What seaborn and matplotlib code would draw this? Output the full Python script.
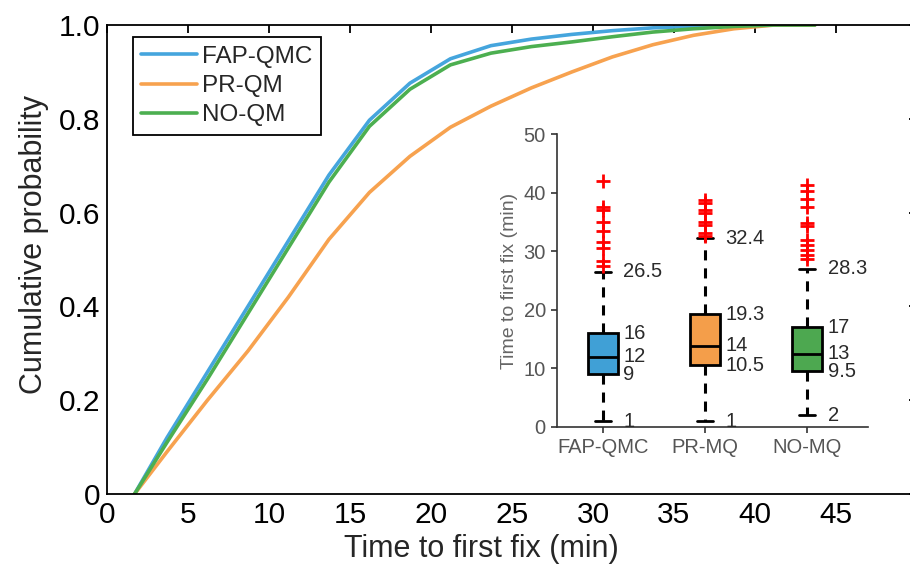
import numpy as np
import pandas as pd
import seaborn as sns
import matplotlib
matplotlib.use('Agg')
import matplotlib.pyplot as plt

sns.set_theme(style='white')
plt.rcParams['font.family'] = ['Liberation Sans', 'DejaVu Sans']

# CDF of time to first fix
t_min = [1.7, 3.7, 6.2, 8.7, 11.2, 13.7, 16.2, 18.7, 21.2, 23.7, 26.2, 28.7,
         31.2, 33.7, 36.2, 38.7, 41.2, 43.7]
cdf_fap = [0, 0.12, 0.26, 0.40, 0.54, 0.68, 0.797, 0.876, 0.928, 0.956, 0.970, 0.980,
           0.988, 0.994, 0.997, 0.999, 1.0, 1.0]
cdf_pr = [0, 0.09, 0.20, 0.305, 0.42, 0.543, 0.643, 0.72, 0.782, 0.827, 0.866, 0.90,
          0.932, 0.958, 0.978, 0.992, 1.0, 1.0]
cdf_no = [0, 0.11, 0.245, 0.385, 0.525, 0.665, 0.784, 0.863, 0.915, 0.94, 0.954, 0.964,
          0.975, 0.985, 0.992, 0.997, 1.0, 1.0]
legend_names = ['FAP-QMC', 'PR-QM', 'NO-QM']
line_colors = ['#45A5DD', '#F7A24F', '#4CAF50']

x_ticks = [0, 5, 10, 15, 20, 25, 30, 35, 40, 45]
y_ticks = [0, 0.2, 0.4, 0.6, 0.8, 1.0]
y_ticklabels = ['0', '0.2', '0.4', '0.6', '0.8', '1.0']

# inset box plot summary
box_names = ['FAP-QMC', 'PR-MQ', 'NO-MQ']
whis_lo = [1, 1, 2]
q1 = [9, 10.5, 9.5]
med = [12, 13.9, 12.5]
q3 = [16, 19.2, 17]
whis_hi = [26.5, 32.2, 27.0]
outliers = [
    [42, 37.5, 37, 35, 33.5, 31.6, 30.6, 28.4, 27.5],
    [38.8, 38.3, 37.0, 36.5, 35.0, 34.5, 33.1, 32.6],
    [41.3, 40.3, 38.9, 37.5, 34.8, 34.3, 31.9, 31.1, 30.2, 29.3, 28.6],
]
box_colors = ['#40A0D6', '#F49E4A', '#4DA850']
label_lo = ['1', '1', '2']
label_q1 = ['9', '10.5', '9.5']
label_med = ['12', '14', '13']
label_q3 = ['16', '19.3', '17']
label_hi = ['26.5', '32.4', '28.3']

fig = plt.figure(figsize=(9.1, 5.7), dpi=100)
ax = fig.add_axes([0.1176, 0.1333, 0.890, 0.8228])

for ys, name, c in zip([cdf_fap, cdf_pr, cdf_no], legend_names, line_colors):
    sns.lineplot(x=t_min, y=ys, ax=ax, color=c, lw=2.6, label=name)

ax.set_xlim(0, 50)
ax.set_ylim(0, 1)
ax.set_xticks(x_ticks)
ax.set_yticks(y_ticks)
ax.set_yticklabels(y_ticklabels)
ax.tick_params(direction='in', length=6, width=1.3, top=True, right=True,
               labelsize=21.5, colors='black', pad=5)
for s in ax.spines.values():
    s.set_color('black')
    s.set_linewidth(1.3)
ax.set_xlabel('Time to first fix (min)', fontsize=22)
ax.set_ylabel('Cumulative probability', fontsize=22)
ax.xaxis.set_label_coords(0.462, -0.085)
ax.yaxis.set_label_coords(-0.072, 0.531)

leg = ax.legend(loc='upper left', bbox_to_anchor=(0.032, 0.974), borderaxespad=0,
                fontsize=17.5, handlelength=2.3, handletextpad=0.2,
                labelspacing=0.3, borderpad=0.35, fancybox=False, framealpha=1)
leg.get_frame().set_edgecolor('black')
leg.get_frame().set_linewidth(1.3)

# inset
ins = fig.add_axes([0.612, 0.2509, 0.342, 0.514])
stats = []
for i in range(3):
    stats.append(dict(med=med[i], q1=q1[i], q3=q3[i], whislo=whis_lo[i],
                      whishi=whis_hi[i], fliers=[]))
bp = ins.bxp(stats, positions=[0, 1, 2], widths=0.3, capwidths=0.16,
             patch_artist=True, showfliers=False,
             boxprops=dict(edgecolor='black', linewidth=2),
             medianprops=dict(color='black', linewidth=2),
             whiskerprops=dict(color='black', linewidth=2.2, linestyle=(0, (3.3, 2.6))),
             capprops=dict(color='black', linewidth=2))
for patch, c in zip(bp['boxes'], box_colors):
    patch.set_facecolor(c)

fl = pd.DataFrame({'pos': [i for i, o in enumerate(outliers) for _ in o],
                   'val': [v for o in outliers for v in o]})
sns.scatterplot(data=fl, x='pos', y='val', ax=ins, marker='+', color='red',
                s=90, linewidth=2, zorder=5)

for i in range(3):
    for yv, txt in zip([whis_lo[i], q1[i], med[i], q3[i], whis_hi[i]],
                       [label_lo[i], label_q1[i], label_med[i], label_q3[i], label_hi[i]]):
        ins.text(i + 0.2, yv, txt, ha='left', va='center', fontsize=14.5, color='#2a2a2a')

ins.set_xlim(-0.451, 2.598)
ins.set_ylim(0, 50)
ins.set_yticks([0, 10, 20, 30, 40, 50])
ins.set_xticks([0, 1, 2])
ins.set_xticklabels(box_names)
ins.set_xlabel('')
ins.set_ylabel('Time to first fix (min)', fontsize=14, color='#666666', labelpad=4)
ins.tick_params(direction='out', length=4, width=1.2, labelsize=14.5,
                colors='#333333', labelcolor='#555555', left=True, bottom=True, pad=4)
ins.set_facecolor('white')
ins.spines['top'].set_visible(False)
ins.spines['right'].set_visible(False)
for s in ['left', 'bottom']:
    ins.spines[s].set_color('#333333')
    ins.spines[s].set_linewidth(1.2)

fig.savefig('out.png', dpi=100)
